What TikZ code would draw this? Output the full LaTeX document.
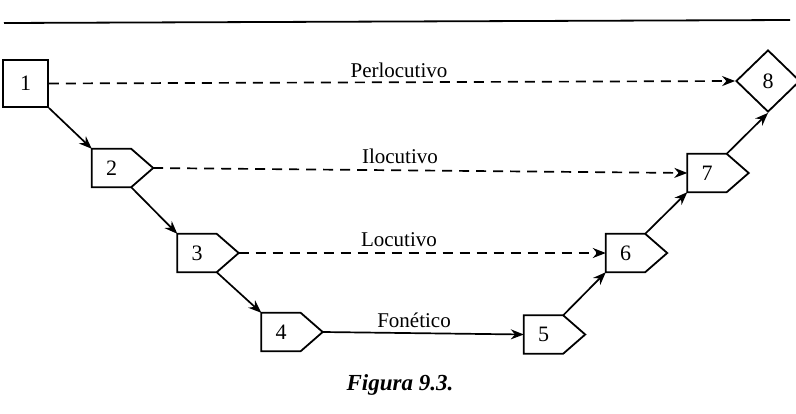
\documentclass[tikz,border=0pt]{standalone}
\usepackage{fontspec}
\setmainfont{Liberation Serif}
\usetikzlibrary{shapes.geometric,arrows.meta}
\newcommand\mypenta[1]{%
  \path (#1.east) ++(22,0) coordinate (#1tip);
  \draw[shapeline] (#1.north east) -- (#1.north west) -- (#1.south west) -- (#1.south east) -- (#1tip) -- cycle;}
\begin{document}
\begin{tikzpicture}[x=1pt,y=-1pt,
  shapeline/.style={line width=1.8pt, line join=miter},
  box/.style={minimum width=39pt, minimum height=38pt, inner sep=0pt, font=\fontsize{22}{24}\selectfont},
  lbl/.style={font=\fontsize{21}{23}\selectfont, inner sep=0pt},
  conn/.style={line width=1.7pt, -{Stealth[length=13pt,width=10pt]}},
  dconn/.style={conn, dash pattern=on 10pt off 7pt}]
\useasboundingbox (0,0) rectangle (796,413);
\draw[line width=1.8pt] (4,23) -- (790,20);
% nodes
\node[box, draw, line width=1.8pt, minimum width=45pt, minimum height=47pt] (n1) at (25.5,83.5) {1};
\node[box] (n2) at (111.5,168) {2};
\node[box] (n3) at (197,253) {3};
\node[box] (n4) at (281,332) {4};
\node[box] (n5) at (543.5,334.5) {5};
\node[box] (n6) at (625.5,253) {6};
\node[box] (n7) at (707,173) {7};
\node[box, draw, line width=1.8pt, diamond, minimum width=64pt, minimum height=62pt, aspect=1] (n8) at (768,81) {8};
\mypenta{n2}\mypenta{n3}\mypenta{n4}\mypenta{n5}\mypenta{n6}\mypenta{n7}
% solid connectors
\draw[conn] (n1.south east) -- (n2.north west);
\draw[conn] (n2.south east) -- (n3.north west);
\draw[conn] (n3.south east) -- (n4.north west);
\draw[conn] (n4tip) -- (n5.west);
\draw[conn] (n5.north east) -- (n6.south west);
\draw[conn] (n6.north east) -- (n7.south west);
\draw[conn] (n7.north east) -- (n8.south);
% dashed connectors
\draw[dconn] (n1.east) -- (n8.west);
\draw[dconn] (n2tip) -- (n7.west);
\draw[dconn] (n3tip) -- (n6.west);
% labels
\node[lbl] (lp) at (399,70) {Perlocutivo};
\node[lbl] (li) at (400,156) {Ilocutivo};
\node[lbl] (ll) at (399,240) {Locutivo};
\node[lbl] (lf) at (414,320) {Fonético};
\node[font=\fontsize{23}{25}\selectfont\itshape\bfseries, inner sep=0pt] (cap) at (400,385) {Figura 9.3.};
\end{tikzpicture}
\end{document}
